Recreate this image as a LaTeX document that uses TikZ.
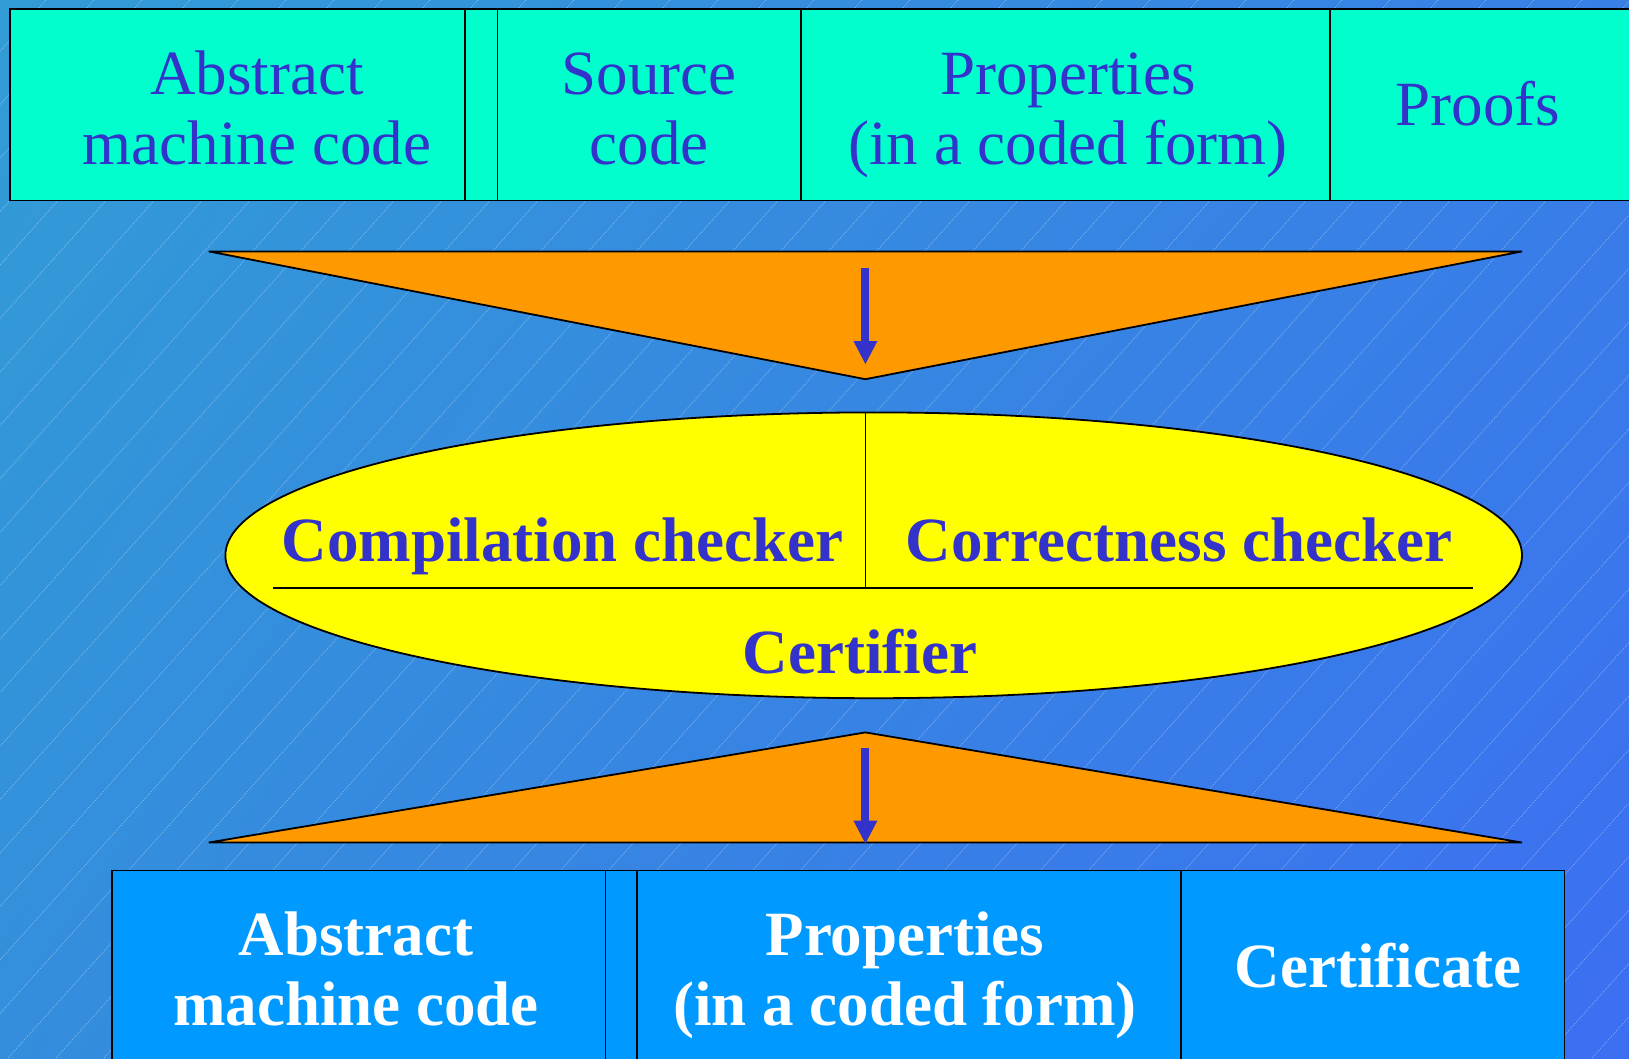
\documentclass[tikz,border=0pt]{standalone}
\usepackage{fontspec}
\setmainfont{Liberation Serif}
\usetikzlibrary{shapes.geometric,arrows.meta,shadings}
\definecolor{txtblue}{RGB}{51,51,204}
\definecolor{topfill}{RGB}{0,255,204}
\definecolor{botfill}{RGB}{0,153,255}
\definecolor{orng}{RGB}{255,153,0}
\definecolor{yel}{RGB}{255,255,0}
\definecolor{bgtl}{RGB}{50,156,214}
\definecolor{bgtr}{RGB}{56,128,230}
\definecolor{bgbl}{RGB}{52,142,220}
\definecolor{bgbr}{RGB}{60,110,242}
\tikzset{
  cell/.style={draw=black, line width=1.8pt, inner sep=0pt, anchor=north west},
  topcell/.style={cell, fill=topfill},
  botcell/.style={cell, fill=botfill},
  lbl/.style={font=\fontsize{63}{70}\selectfont, text=txtblue, anchor=base, inner sep=0pt},
  blbl/.style={font=\fontsize{63}{70}\selectfont\bfseries, text=txtblue, anchor=base, inner sep=0pt},
  wlbl/.style={blbl, text=white},
  hatch/.style={white, opacity=0.35, line width=0.8pt, dash pattern=on 1.2pt off 1.2pt},
  funnel/.style={draw=black, fill=orng, line width=1.8pt, line join=miter},
  flow/.style={draw=txtblue, line width=8pt, -{Triangle[width=24pt,length=23pt,line width=0pt]}},
  thin/.style={draw=black, line width=1.8pt}
}
\begin{document}
\begin{tikzpicture}[x=1pt,y=-1pt]
\useasboundingbox (0,0) rectangle (1629,1058);
\shade[upper left=bgtl, upper right=bgtr, lower left=bgbl, lower right=bgbr] (0,0) rectangle (1629,1058);
\begin{scope}
\clip (0,0) rectangle (1629,1058);
\foreach \x in {-1000,-952,...,1700} \draw[hatch] (\x,1058) -- ++(950,-1058);
\end{scope}
% top row
\node[topcell, minimum width=455pt, minimum height=191.2pt] (t1) at (9.4,8.3) {};
\node[topcell, minimum width=32.2pt, minimum height=191.2pt] (t2) at (464.4,8.3) {};
\node[topcell, minimum width=303.4pt, minimum height=191.2pt] (t3) at (496.6,8.3) {};
\node[topcell, minimum width=528.8pt, minimum height=191.2pt] (t4) at (800,8.3) {};
\node[topcell, minimum width=320pt, minimum height=191.2pt] (t5) at (1328.8,8.3) {};
\node[lbl] (t1a) at (257,94.5) {Abstract};
\node[lbl] (t1b) at (257,164) {machine code};
\node[lbl] (t3a) at (649,94.5) {Source};
\node[lbl] (t3b) at (649,164) {code};
\node[lbl] (t4a) at (1068,94.5) {Properties};
\node[lbl] (t4b) at (1068,164) {(in a coded form)};
\node[lbl] (t5a) at (1478,125) {Proofs};
% upper funnel
\coordinate (fl) at (208.8,251.4);
\coordinate (fr) at (1522,251.4);
\coordinate (fa) at (865.4,379.2);
\draw[funnel] (fl) -- (fr) -- (fa) -- cycle;
\coordinate (a1s) at (865.4,268);
\coordinate (a1e) at (865.4,364);
\draw[flow] (a1s) -- (a1e);
% certifier ellipse
\node[ellipse, draw=black, fill=yel, line width=1.8pt, inner sep=0pt, minimum width=1296.6pt, minimum height=285.8pt] (cert) at (873.7,555.3) {};
\coordinate (dvt) at (865.4,412.6);
\coordinate (dvb) at (865.4,588);
\coordinate (hl) at (273,588);
\coordinate (hr) at (1473,588);
\draw[thin] (dvt) -- (dvb);
\draw[thin] (hl) -- (hr);
\node[blbl] (cc) at (562.6,561) {Compilation checker};
\node[blbl] (kc) at (1179,561) {Correctness checker};
\node[blbl] (cf) at (860,673) {Certifier};
% lower funnel
\coordinate (ga) at (865.4,732.4);
\coordinate (gr) at (1522,842.5);
\coordinate (gl) at (208.8,842.5);
\draw[funnel] (ga) -- (gr) -- (gl) -- cycle;
\coordinate (a2s) at (865.4,748);
\coordinate (a2e) at (865.4,843.6);
\draw[flow] (a2s) -- (a2e);
% bottom row
\node[botcell, minimum width=493.6pt, minimum height=205pt] (b1) at (111,869.6) {};
\node[botcell, minimum width=31.2pt, minimum height=205pt] (b2) at (604.6,869.6) {};
\node[botcell, minimum width=544.2pt, minimum height=205pt] (b3) at (635.8,869.6) {};
\node[botcell, minimum width=383.6pt, minimum height=205pt] (b4) at (1180,869.6) {};
\node[wlbl] (b1a) at (356,955) {Abstract};
\node[wlbl] (b1b) at (356,1025) {machine code};
\node[wlbl] (b3a) at (905,955) {Properties};
\node[wlbl] (b3b) at (905,1025) {(in a coded form)};
\node[wlbl] (b4a) at (1378,987) {Certificate};
\end{tikzpicture}
\end{document}
